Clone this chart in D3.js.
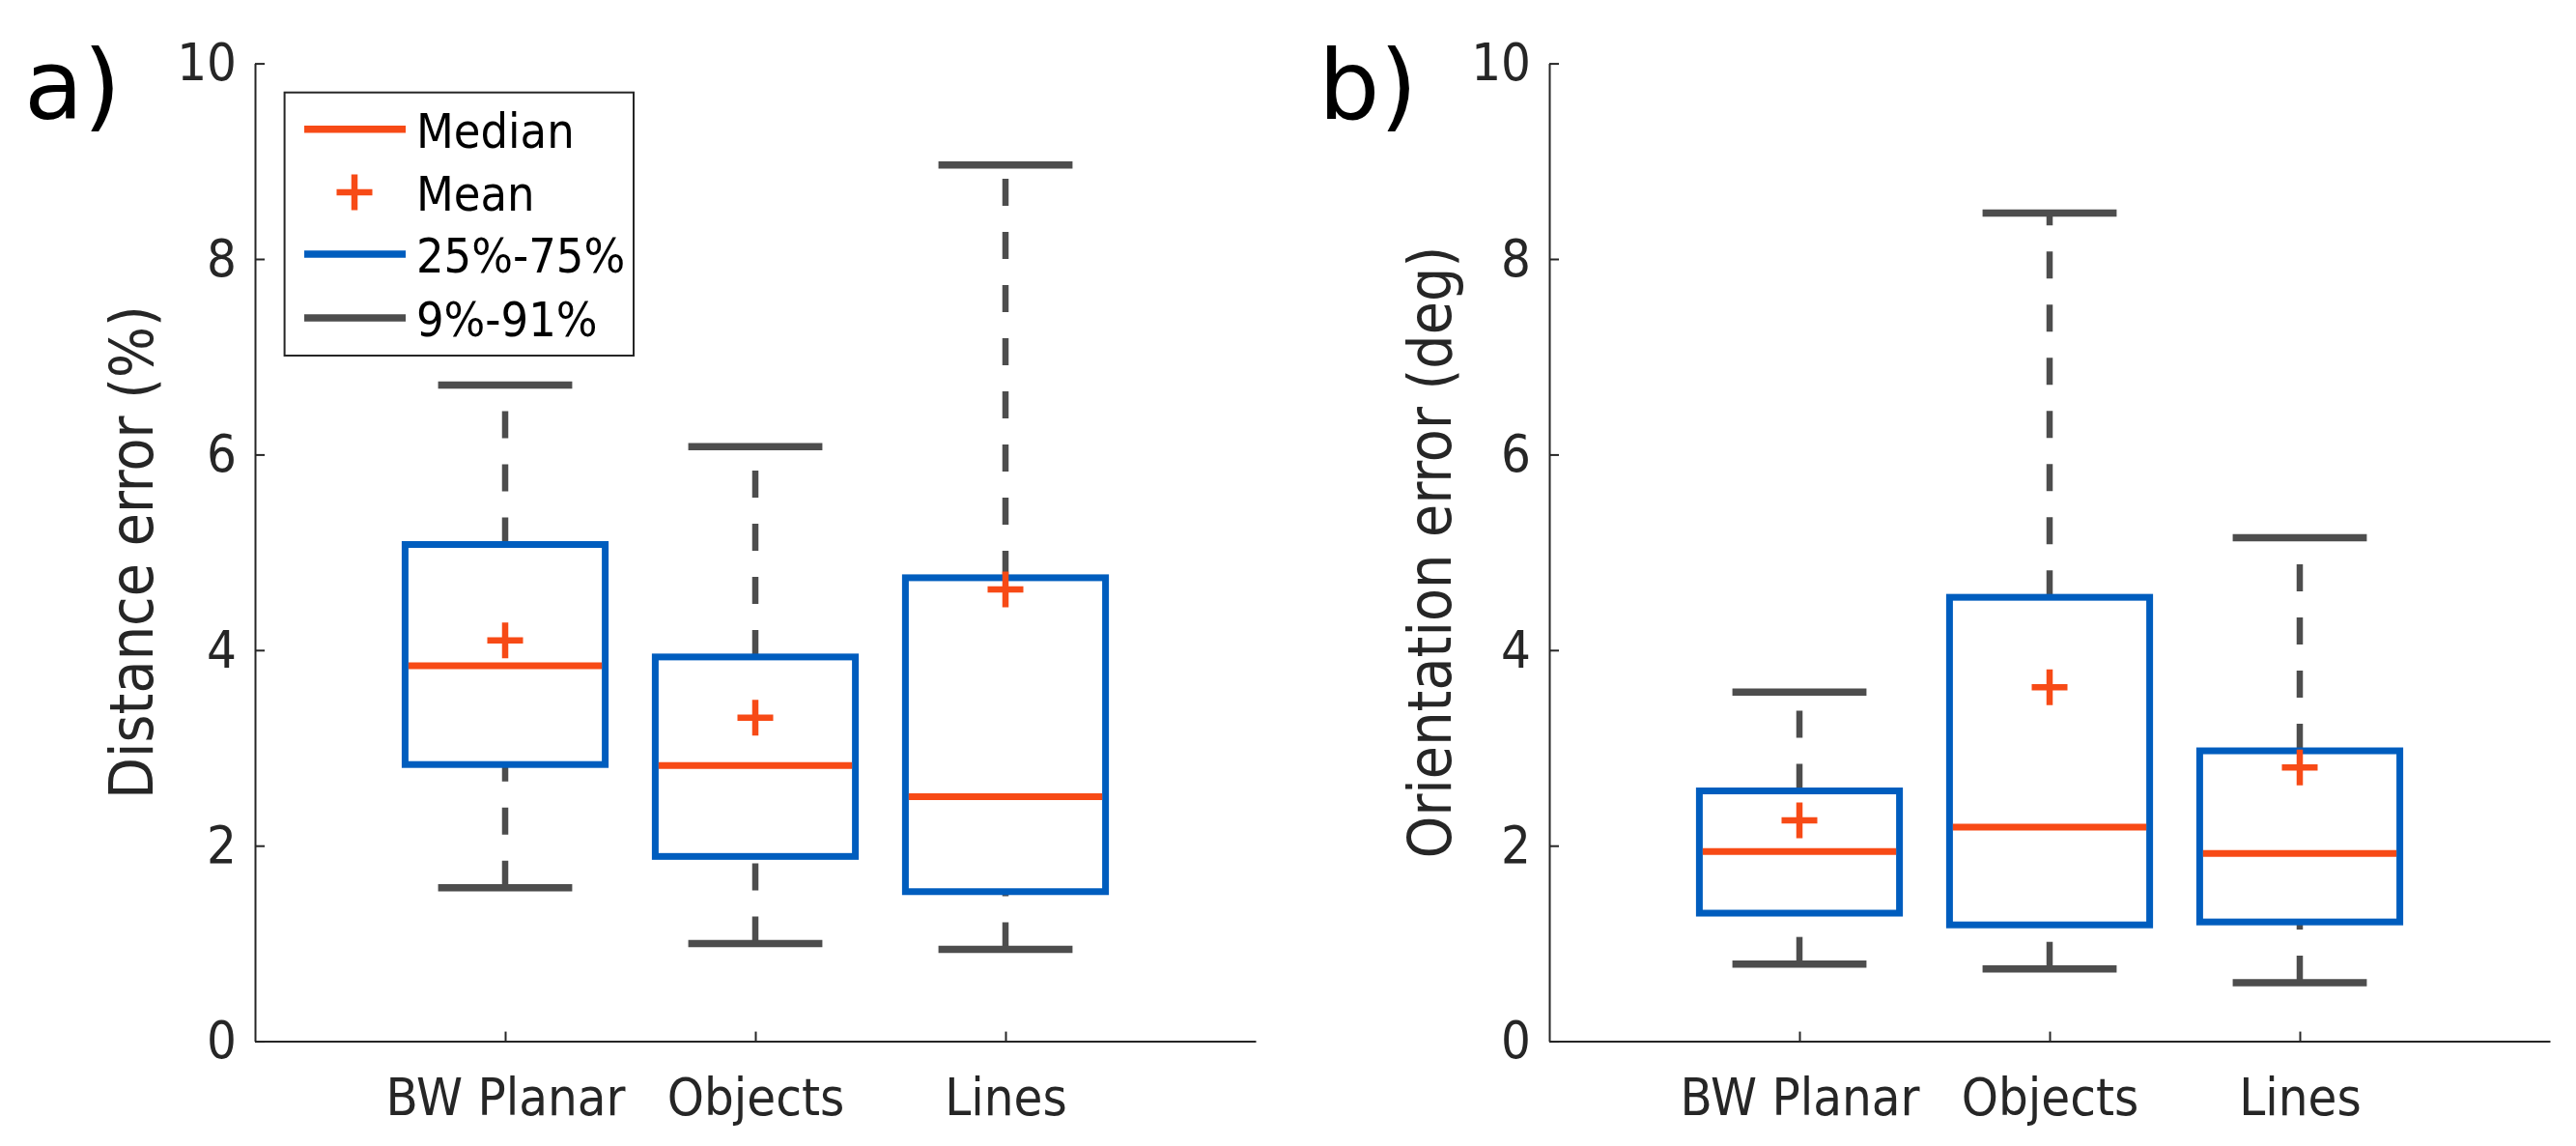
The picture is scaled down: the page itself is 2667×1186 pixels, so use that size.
<!DOCTYPE html>
<html><head><meta charset="utf-8">
<script src="https://cdn.jsdelivr.net/npm/d3@7/dist/d3.min.js"></script>
<style>
html,body{margin:0;padding:0;background:#fff;}
svg{display:block;}
</style></head>
<body><svg id="chart" width="2667" height="1186"></svg>
<script>
const categories = ["BW Planar", "Objects", "Lines"];
const yTicks = [0, 2, 4, 6, 8, 10];
const legendLabels = ["Median", "Mean", "25%-75%", "9%-91%"];

// Panel a: Distance error (%)
const distP9     = [1.57, 1.00, 0.94];
const distQ25    = [2.83, 1.89, 1.53];
const distMedian = [3.84, 2.82, 2.50];
const distQ75    = [5.08, 3.93, 4.74];
const distP91    = [6.71, 6.08, 8.96];
const distMean   = [4.10, 3.31, 4.62];

// Panel b: Orientation error (deg)
const oriP9     = [0.79, 0.74, 0.60];
const oriQ25    = [1.31, 1.19, 1.22];
const oriMedian = [1.94, 2.19, 1.92];
const oriQ75    = [2.56, 4.54, 2.97];
const oriP91    = [3.57, 8.47, 5.15];
const oriMean   = [2.26, 3.62, 2.80];

const C_MED = "#F74A16", C_BOX = "#005DBE", C_WH = "#4D4D4D", C_AX = "#262626";
const FONT = "'DejaVu Sans Condensed','DejaVu Sans',sans-serif";

const svg = d3.select("#chart");

function panel(opts) {
  const {left, label, title, titleX, p9, q25, med, q75, p91, mean, legend} = opts;
  const top = 65.6, bottom = 1077.6, width = 1036;
  const g = svg.append("g");
  const x = d3.scaleLinear().domain([0, 4]).range([left, left + width]);
  const y = d3.scaleLinear().domain([0, 10]).range([bottom, top]);
  const rows = categories.map((c, i) => ({c, i: i + 1, p9: p9[i], q25: q25[i], med: med[i], q75: q75[i], p91: p91[i], mean: mean[i]}));

  // axes
  const ya = g.append("g").attr("transform", `translate(${left},0)`)
    .call(d3.axisLeft(y).tickValues(yTicks).tickSize(-10).tickSizeOuter(0).tickPadding(19).tickFormat(d3.format("d")));
  const xa = g.append("g").attr("transform", `translate(0,${bottom})`)
    .call(d3.axisBottom(x).tickValues([1, 2, 3]).tickSize(-10).tickSizeOuter(0).tickPadding(38).tickFormat((d) => categories[d - 1]));
  [ya, xa].forEach(a => {
    a.select(".domain").attr("stroke", C_AX).attr("stroke-width", 2);
    a.selectAll(".tick line").attr("stroke", C_AX).attr("stroke-width", 2);
    a.selectAll(".tick text").attr("fill", C_AX).style("font-family", FONT).style("font-size", "54px");
  });

  const boxHW = x(0.4) - x(0), capHW = x(0.268) - x(0);
  // whiskers (drawn from the lower value upward)
  rows.forEach(r => {
    [[r.p9, r.q25], [r.q75, r.p91]].forEach(([a, b]) => {
      g.append("line").attr("x1", x(r.i)).attr("x2", x(r.i)).attr("y1", y(a)).attr("y2", y(b))
        .attr("stroke", C_WH).attr("stroke-width", 6.5).attr("stroke-dasharray", "28,27");
    });
    [r.p9, r.p91].forEach(v => {
      g.append("line").attr("x1", x(r.i) - capHW).attr("x2", x(r.i) + capHW).attr("y1", y(v)).attr("y2", y(v))
        .attr("stroke", C_WH).attr("stroke-width", 7.5);
    });
  });
  // boxes
  g.selectAll("rect.box").data(rows).join("rect").attr("class", "box")
    .attr("x", d => x(d.i) - boxHW).attr("width", 2 * boxHW)
    .attr("y", d => y(d.q75)).attr("height", d => y(d.q25) - y(d.q75))
    .attr("fill", "none").attr("stroke", C_BOX).attr("stroke-width", 7);
  // medians
  g.selectAll("line.med").data(rows).join("line").attr("class", "med")
    .attr("x1", d => x(d.i) - boxHW + 3.5).attr("x2", d => x(d.i) + boxHW - 3.5)
    .attr("y1", d => y(d.med)).attr("y2", d => y(d.med))
    .attr("stroke", C_MED).attr("stroke-width", 7);
  // means
  const pl = 18.5;
  g.selectAll("path.mean").data(rows).join("path").attr("class", "mean")
    .attr("d", d => `M${x(d.i) - pl},${y(d.mean)}H${x(d.i) + pl}M${x(d.i)},${y(d.mean) - pl}V${y(d.mean) + pl}`)
    .attr("stroke", C_MED).attr("stroke-width", 6.5).attr("fill", "none");

  // y title
  g.append("text").attr("transform", `translate(${titleX},${(top + bottom) / 2}) rotate(-90)`)
    .attr("text-anchor", "middle").attr("fill", C_AX)
    .style("font-family", FONT).style("font-size", "62px").text(title);
  // panel label
  g.append("text").attr("x", left - 239).attr("y", 123).attr("fill", "#000")
    .style("font-family", "'DejaVu Sans',sans-serif").style("font-size", "100px").text(label);

  if (legend) {
    const lx = 294.6, ly = 95.7, lw = 361.4, lh = 272.3;
    const lg = g.append("g");
    lg.append("rect").attr("x", lx).attr("y", ly).attr("width", lw).attr("height", lh)
      .attr("fill", "#fff").attr("stroke", C_AX).attr("stroke-width", 2);
    const rowsY = [133.7, 199, 263, 329];
    const colors = [C_MED, C_MED, C_BOX, C_WH];
    legendLabels.forEach((t, i) => {
      const yy = rowsY[i];
      if (i === 1) {
        lg.append("path").attr("d", `M${367 - pl},${yy}H${367 + pl}M367,${yy - pl}V${yy + pl}`)
          .attr("stroke", C_MED).attr("stroke-width", 6.5);
      } else {
        lg.append("line").attr("x1", 315).attr("x2", 420).attr("y1", yy).attr("y2", yy)
          .attr("stroke", colors[i]).attr("stroke-width", 7.5);
      }
      lg.append("text").attr("x", 431).attr("y", yy + 19).attr("fill", "#000")
        .style("font-family", FONT).style("font-size", "50px").text(t);
    });
  }
}

panel({left: 264, label: "a)", title: "Distance error (%)", titleX: 158,
  p9: distP9, q25: distQ25, med: distMedian, q75: distQ75, p91: distP91, mean: distMean, legend: true});
panel({left: 1604, label: "b)", title: "Orientation error (deg)", titleX: 1502,
  p9: oriP9, q25: oriQ25, med: oriMedian, q75: oriQ75, p91: oriP91, mean: oriMean, legend: false});
</script>
</body></html>
